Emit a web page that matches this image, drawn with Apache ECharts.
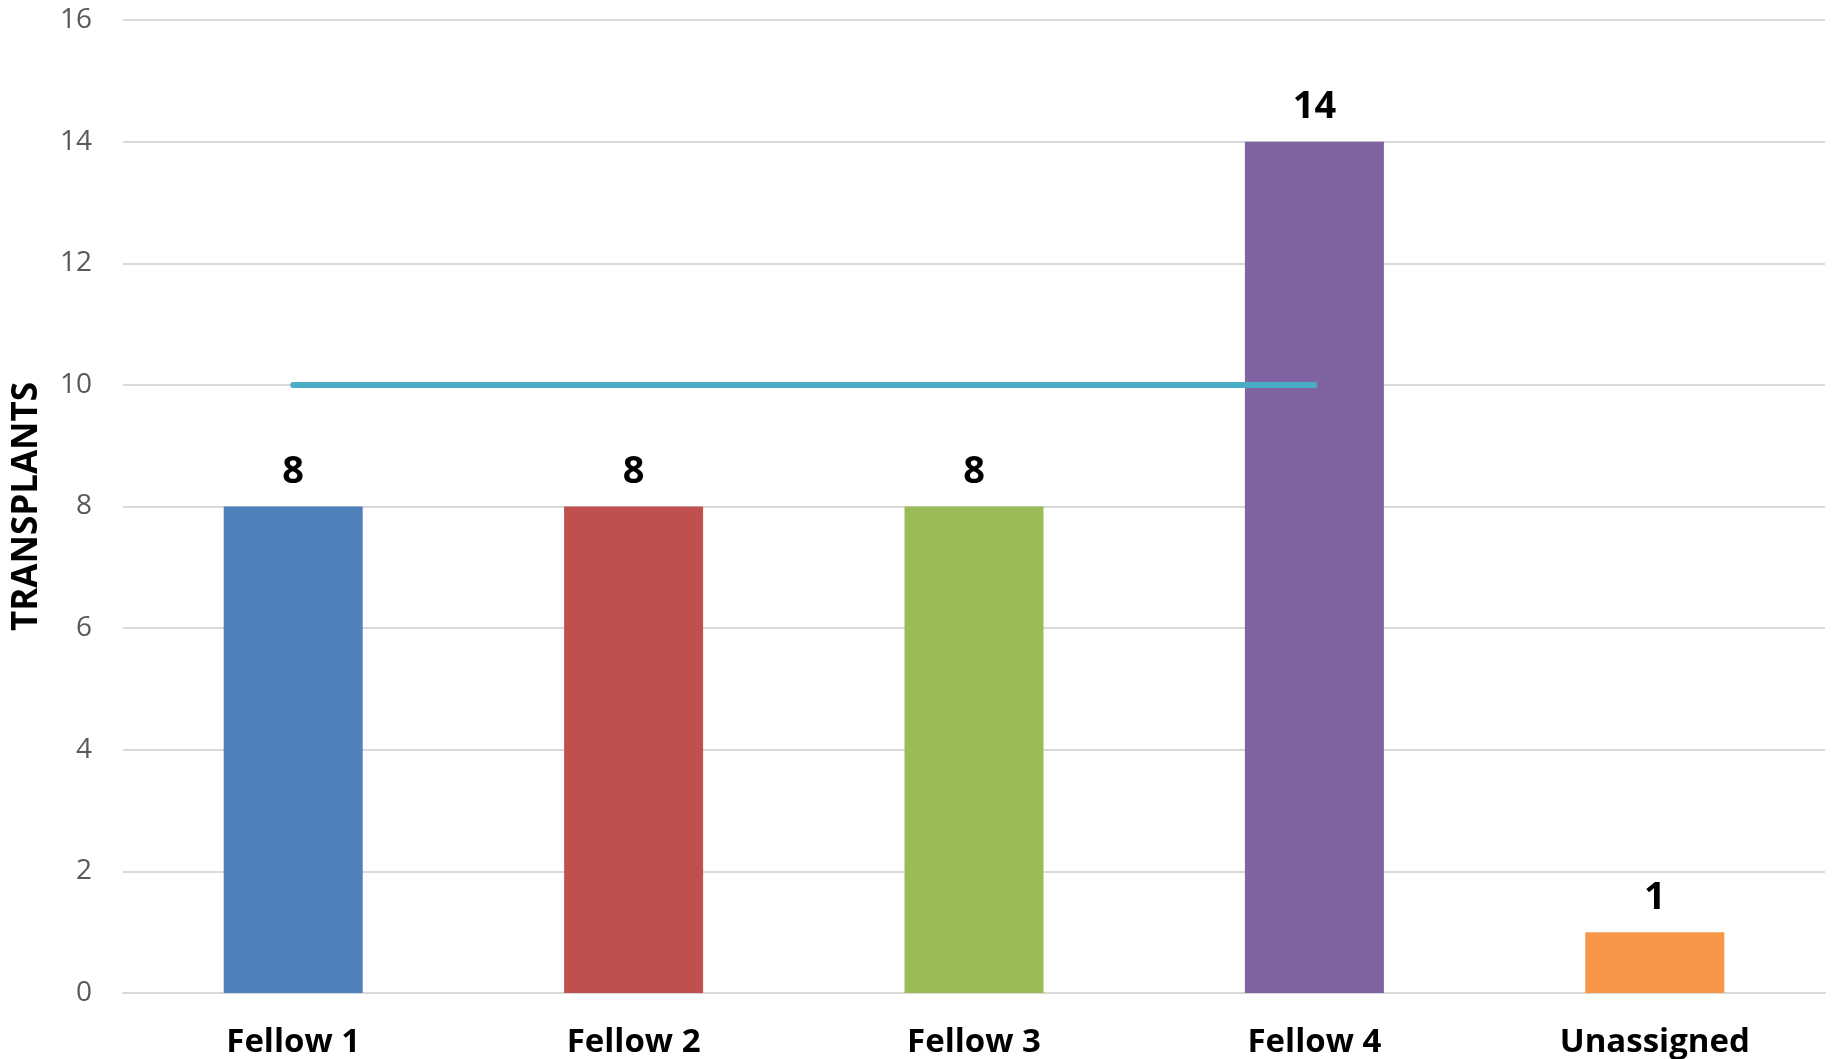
<!DOCTYPE html>
<html>
<head>
<meta charset="utf-8">
<script src="https://cdn.jsdelivr.net/npm/echarts@6/dist/echarts.min.js"></script>
<style>
  html, body { margin: 0; padding: 0; background: #fff; }
  #main { width: 1833px; height: 1059px; }
</style>
</head>
<body>
<div id="main"></div>
<script>
// chart data
var categories = ['Fellow 1', 'Fellow 2', 'Fellow 3', 'Fellow 4', 'Unassigned']
var transplants = [8, 8, 8, 14, 1]
var target = [10, 10, 10, 10, '-'] // goal line, ends at Fellow 4
var barColors = ['#4f81bd', '#c0504d', '#9bbb59', '#8064a2', '#f79646']

var myChart = echarts.init(document.getElementById('main'))

myChart.setOption({
  animation: false,
  textStyle: { fontFamily: 'Open Sans' },
  grid: { left: 123, right: 8, top: 20, bottom: 66, containLabel: false, outerBoundsMode: 'none' },
  xAxis: {
    type: 'category',
    data: categories,
    axisTick: { show: false },
    axisLine: { lineStyle: { color: '#d9d9d9', width: 2 } },
    axisLabel: {
      color: '#000',
      fontWeight: 'bold',
      fontSize: 33,
      margin: 33,
      fontFamily: 'Open Sans'
    }
  },
  yAxis: {
    type: 'value',
    min: 0,
    max: 16,
    interval: 2,
    name: 'TRANSPLANTS',
    nameLocation: 'middle',
    nameGap: 78,
    nameTextStyle: {
      color: '#000',
      fontWeight: 'bold',
      fontSize: 35,
      fontFamily: 'Open Sans'
    },
    axisLine: { show: false },
    axisTick: { show: false },
    axisLabel: { color: '#595959', fontSize: 28, margin: 31, fontFamily: 'Open Sans' },
    splitLine: { lineStyle: { color: '#d9d9d9', width: 2 } }
  },
  series: [
    {
      name: 'Transplants',
      type: 'bar',
      barWidth: 139,
      data: transplants.map(function (v, i) {
        return { value: v, itemStyle: { color: barColors[i] } }
      }),
      label: {
        show: true,
        position: 'top',
        distance: 15,
        color: '#000',
        fontWeight: 'bold',
        fontSize: 38,
        fontFamily: 'Open Sans'
      }
    },
    {
      name: 'Goal',
      type: 'line',
      data: target,
      showSymbol: false,
      symbol: 'none',
      z: 5,
      lineStyle: { color: '#4bacc6', width: 6, cap: 'round' }
    }
  ]
})
</script>
</body>
</html>
